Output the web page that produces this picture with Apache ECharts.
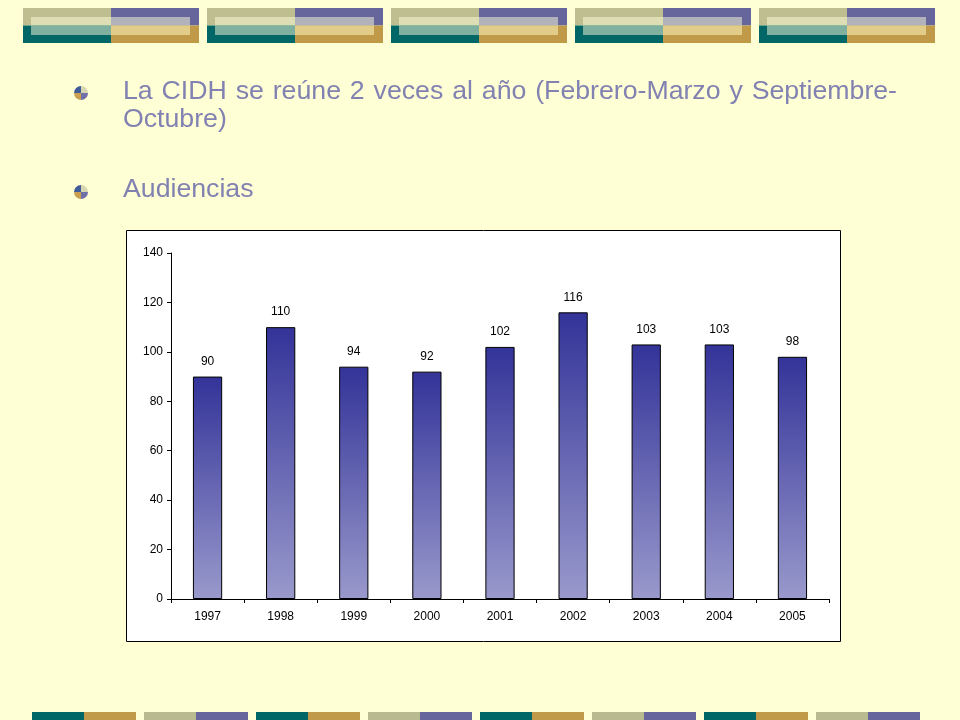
<!DOCTYPE html>
<html>
<head>
<meta charset="utf-8">
<script src="https://cdn.jsdelivr.net/npm/echarts@6/dist/echarts.min.js"></script>
<style>
html,body{margin:0;padding:0;background:#FFFFD5;}
#c{width:960px;height:720px;}
</style>
</head>
<body>
<div id="c"></div>
<script>
// ---- data ----
var years = ['1997','1998','1999','2000','2001','2002','2003','2004','2005'];
var audiencias = [90, 110, 94, 92, 102, 116, 103, 103, 98];
var yMax = 140;
var yInterval = 20;
var line1Words = ['La','CIDH','se','reúne','2','veces','al','año','(Febrero-Marzo','y','Septiembre-'];
var line2Text = 'Octubre)';
var bullet2Text = 'Audiencias';

// ---- layout ----
var textColor = '#8282B2';
var font = '"Liberation Sans", Arial, sans-serif';
var bodyFont = '26.7px ' + font;
var line1Left = 123, line1Right = 897;

var graphics = [];
// top decorations
for (var i = 0; i < 5; i++) {
  var x0 = 23 + i * 184;
  var cols = [['#BEBE90','#66669C'],['#006666','#C09A48']];
  var inner = [['#DEDEB4','#B2B2BA'],['#80B0A0','#E2CC8A']];
  for (var r = 0; r < 2; r++) for (var c = 0; c < 2; c++) {
    graphics.push({type:'rect', shape:{x:x0 + c*88, y:8 + r*17.5, width:88, height:17.5}, style:{fill:cols[r][c]}, z:1});
  }
  for (var r2 = 0; r2 < 2; r2++) for (var c2 = 0; c2 < 2; c2++) {
    var ix = c2 === 0 ? x0 + 8 : x0 + 88;
    var iw = c2 === 0 ? 80 : 79;
    var iy = r2 === 0 ? 17 : 25.5;
    var ih = r2 === 0 ? 8.5 : 9.5;
    graphics.push({type:'rect', shape:{x:ix, y:iy, width:iw, height:ih}, style:{fill:inner[r2][c2]}, z:2});
  }
}
// bottom decorations
for (var j = 0; j < 8; j++) {
  var bx = 32 + j * 112;
  var pair = (j % 2 === 0) ? ['#006666','#C09A48'] : ['#BABA90','#66669C'];
  graphics.push({type:'rect', shape:{x:bx, y:712, width:52, height:8}, style:{fill:pair[0]}, z:1});
  graphics.push({type:'rect', shape:{x:bx+52, y:712, width:52, height:8}, style:{fill:pair[1]}, z:1});
}
// bullets
function bullet(cx, cy) {
  var rr = 7;
  var q = [['#D6D6B0', -Math.PI/2, 0], ['#7070A8', 0, Math.PI/2], ['#C8A050', Math.PI/2, Math.PI], ['#3E5C9A', Math.PI, Math.PI*1.5]];
  q.forEach(function(s){
    graphics.push({type:'sector', shape:{cx:cx, cy:cy, r:rr, startAngle:s[1], endAngle:s[2]}, style:{fill:s[0]}, z:3});
  });
}
bullet(81, 93);
bullet(81, 192);
// justified first line
var ctx = document.createElement('canvas').getContext('2d');
ctx.font = bodyFont;
var widths = line1Words.map(function(w){ return ctx.measureText(w).width; });
var total = widths.reduce(function(a,b){return a+b;}, 0);
var gap = (line1Right - line1Left - total) / (line1Words.length - 1);
var cx = line1Left;
for (var k = 0; k < line1Words.length; k++) {
  graphics.push({type:'text', x:cx, y:92, style:{text:line1Words[k], fill:textColor, font:bodyFont, verticalAlign:'middle'}, z:3});
  cx += widths[k] + gap;
}
graphics.push({type:'text', x:123, y:120, style:{text:line2Text, fill:textColor, font:bodyFont, verticalAlign:'middle'}, z:3});
graphics.push({type:'text', x:123, y:190, style:{text:bullet2Text, fill:textColor, font:bodyFont, verticalAlign:'middle'}, z:3});
// chart box
graphics.push({type:'rect', shape:{x:126.5, y:230.5, width:714, height:411}, style:{fill:'#FFFFFF', stroke:'#000000', lineWidth:1}, z:0});

var chart = echarts.init(document.getElementById('c'), null, {renderer:'canvas'});
chart.setOption({
  backgroundColor:'#FFFFD5',
  animation:false,
  graphic: graphics,
  grid:{left:171, right:131, top:253, bottom:121, containLabel:false},
  xAxis:{
    type:'category', data:years, boundaryGap:true,
    axisLine:{lineStyle:{color:'#000', width:1}},
    axisTick:{show:true, length:4, inside:false, lineStyle:{color:'#000'}},
    axisLabel:{color:'#000', fontSize:12, fontFamily:font, margin:12}
  },
  yAxis:{
    type:'value', min:0, max:yMax, interval:yInterval,
    splitLine:{show:false},
    axisLine:{show:true, lineStyle:{color:'#000', width:1}},
    axisTick:{show:true, length:4, lineStyle:{color:'#000'}},
    axisLabel:{color:'#000', fontSize:12, fontFamily:font, margin:8}
  },
  series:[{
    type:'bar', data:audiencias, barWidth:'40%', z:2,
    itemStyle:{
      color:new echarts.graphic.LinearGradient(0,0,0,1,[{offset:0,color:'#333399'},{offset:1,color:'#9999CC'}]),
      borderColor:'#000', borderWidth:1
    },
    label:{show:true, position:'top', distance:9, color:'#000', fontSize:12, fontFamily:font}
  }]
});
</script>
</body>
</html>
